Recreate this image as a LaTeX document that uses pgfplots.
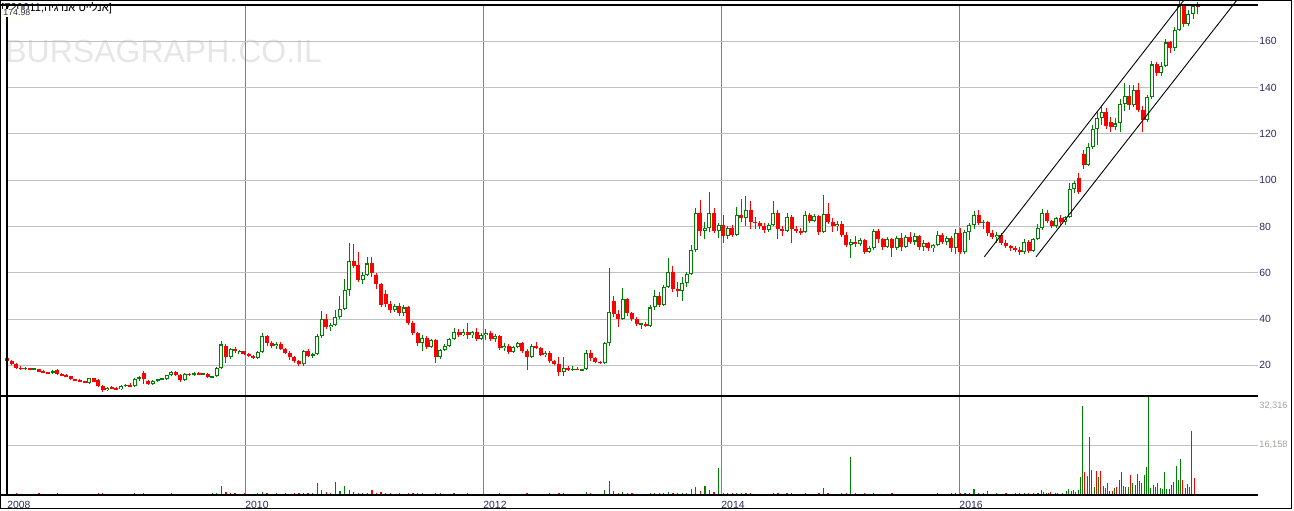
\documentclass[border=0pt]{standalone}
\usepackage{fontspec}
\setmainfont{Liberation Sans}
\newfontfamily\hebfont[Script=Hebrew]{Liberation Sans}
\TeXXeTstate=1
\usepackage{pgfplots}
\pgfplotsset{compat=1.18}
\usepackage{pgfplotstable}
\definecolor{cgreen}{HTML}{008000}
\definecolor{cred}{HTML}{FF0000}
\definecolor{gridh}{HTML}{C0C0C0}
\definecolor{gridv}{HTML}{808080}
\definecolor{lblnavy}{HTML}{2B2B5E}
\definecolor{lblvol}{HTML}{A8A098}
\definecolor{wm}{HTML}{E6E6E6}
\definecolor{boxbg}{HTML}{FFFFF0}

\pgfplotstableread{
w o h l c v
0 23 23.5 21.5 22 400
2 22 22.5 20 20.5 300
4 20.5 21 18.5 19 500
6 19 19.5 17.8 18.5 200
8 18.5 19.2 18 18.8 300
10 18.8 19 17.8 18.2 200
12 18.2 18.8 17.9 18.5 300
14 18.3 18.6 17 17.2 500
16 17.2 17.8 16.5 17 200
18 17 17.3 16.2 16.6 300
20 16.6 17.8 16.3 17.5 200
22 18 18.3 15.8 16.2 400
24 16.2 16.8 15.2 15.6 200
26 15.6 16.3 15 15.4 300
28 15.2 15.4 13.8 14 200
30 14 14.3 13.3 13.6 300
32 13.6 14 12.6 13 200
34 13 13.4 12.4 12.8 200
36 12.4 14.6 12 14.4 300
38 14.4 14.7 12.8 13 200
40 13.5 14 10.8 11.2 400
42 11.2 11.6 8.5 9.2 500
44 9.2 10.8 8.8 10.4 300
46 10.4 11 9.8 10.2 200
48 10.2 10.6 9.2 9.6 300
50 9.6 11.5 9.4 11.2 300
52 11.2 12 10.8 11.4 200
54 11.4 12.2 10.9 11 200
56 11 14.5 10.8 14.2 400
58 14.2 15.2 13.4 14.8 300
60 16.8 17.5 12 14.2 500
62 13.2 13.8 11.4 12 300
64 12 13.6 11.6 13.2 200
66 13.2 14.3 13 14 200
68 14 14.4 13.6 14.1 300
70 14 16 13.8 15.8 200
72 15.8 17.6 15.2 17.2 400
74 17.2 17.5 15.6 16 300
76 16 16.4 13 13.6 200
78 13.6 16.5 13.3 16.2 300
80 16.2 16.8 15.4 16 200
82 16 16.9 15.6 16.6 300
84 16.6 16.9 15.8 16 200
86 16 16.8 15.7 16.5 200
88 16.3 16.6 14.6 15 300
90 15 15.6 14.4 15.3 400
92 15.3 19.2 15 18.8 700
94 18.8 30.5 18.5 29 2800
96 28.5 29 21 23.5 900
98 23.5 27.5 22.8 27 600
100 27 27.8 25.5 26 400
102 25 26.5 24.7 26 300
104 26 26.4 24.5 24.8 400
106 24.8 25.2 23.5 24 300
108 24 24.6 22.8 23.2 200
110 23.2 26 22.6 25.6 500
112 25.6 34 25.2 32.5 900
114 32.5 33 28.5 29.5 600
116 29.5 30.5 27.5 28.2 300
118 28.2 30 27 29.2 400
120 29.2 30 26.5 27 300
122 27 27.5 24.8 25.2 400
124 25.2 26 22.5 23.5 300
126 23.5 24 21.2 22 500
128 22 22.5 19.8 20.5 400
130 20.5 26.5 19.8 26 700
132 26 27 23.5 24 400
134 24 25.2 23.2 24.8 500
136 24.8 33.5 24.5 32.5 3800
138 32.5 43.5 32 40 1500
140 40 42 35.5 36.5 900
142 36.5 38.5 35 37.5 700
144 37.5 44 37 41 4200
146 41 50 40 44.5 1200
148 44.5 57.5 44 52.5 3000
150 52.5 73 50 65 1500
152 65 72.5 62 63 800
154 63.5 69 56 57 700
156 57 60.5 55 59 600
158 59 67 58.5 64 700
160 64 67 58 60 1500
162 59 60 53 55 600
164 55 55.5 45 46 800
166 51 52.5 45 46.5 500
168 46.5 48 42.5 44 400
170 44 46.5 43 45.5 300
172 45.5 47 41.5 42.5 400
174 42.5 46 41.5 45 300
176 45 45.5 37.5 38.5 500
178 38.5 39 33 34 400
180 34 34.5 28.5 29.5 600
182 29.5 33 26 32 400
184 32 32.6 27 28 300
186 28 31.5 27.5 31 300
188 31 31.5 21 23.5 700
190 23.5 27 22.8 26.5 400
192 26.5 29 26 28.5 300
194 28.5 32 28 31.5 300
196 31.5 36 31 34.5 500
198 34.5 35.5 32.2 33 300
200 33 35.5 32.5 34.5 200
202 34.5 38.5 31.5 33 400
204 33 35 32 34.5 200
206 34.5 36 30.5 31.5 300
208 31.5 34 31 33 200
210 33 35.5 31 34 300
212 34 34.8 30.5 31.5 200
214 31.5 33.5 30 32.8 300
216 32.8 33 26.5 27.5 400
218 27.5 29.5 26 28.5 200
220 28.5 29 25 25.8 300
222 25.8 28.5 25.2 28 200
224 28 30 27.5 29.5 300
226 29.5 30 25.5 26 200
228 26 27 18 23.5 500
230 23.5 29 23 28.5 300
232 28.5 30 27 27.5 200
234 27.5 28 24 24.5 300
236 24.5 26 23.5 25.5 200
238 25.5 26 21 21.8 400
240 21.8 22.5 20 20.5 300
242 20.5 23.5 15.5 17 500
244 17 23.5 15.2 19 600
246 19 19.5 17.5 18 200
248 18 19.5 17.5 18.6 200
250 18.6 19.3 17.8 18 200
252 18 18.6 17.6 18.2 300
254 18.2 26.5 17.8 25.5 900
256 25.5 26.5 22 23 400
258 23 23.5 21 21.5 300
260 21.5 22 20.5 21 200
262 21 30 20.5 29.5 1500
264 29.5 62 28.5 43 4500
266 48 50 41 42 1200
268 42 44 36.5 40 700
270 40 53.5 39.5 48.5 900
272 48.5 49 41.5 42.5 500
274 42.5 43 39 40 400
276 40 41 37 37.8 300
278 37.8 38.5 35.5 38 200
280 38 38.6 36.5 37 300
282 37 46 36.5 45 600
284 45 52.5 44 50 700
286 50 51.5 45 46 400
288 46 54.5 45.5 54 500
290 54 66.5 53.5 60.5 900
292 60.5 63 51.5 53 700
294 53 56 49.5 52 400
296 52 58 48 55.5 500
298 55.5 60.5 54 59.5 400
300 59.5 72 59 70 1800
302 70 88 69 86 2600
304 86 91.5 76 78 1200
306 78 82 74.5 79.5 3000
308 79.5 95 77.5 86 1500
310 86 88 77 78 900
312 78 81.5 75 80.5 8700
314 80.5 85 73 76 700
316 76 80 74.5 79.5 500
318 79.5 80.5 75.5 76.5 400
320 76.5 88.5 76 85 700
322 85 92 82 83.5 600
324 83.5 93 80 87 500
326 87 91 79 82 400
328 82 84 79 81.5 300
330 81.5 82.5 79 80 300
332 80 81.5 77 78.5 200
334 78.5 81.5 77.5 80.5 300
336 80.5 91 80 86 600
338 86 87 74.5 79 500
340 79 80 76 78 300
342 78 86 77.5 84 400
344 84 85 72.8 79 500
346 79 80 77 78 200
348 78 79.5 76.5 77.5 300
350 77.5 86.5 77 85 400
352 85 86 81.5 82.5 300
354 82.5 85.5 82 84.5 200
356 84.5 85 76.5 77.5 400
358 77.5 93.5 77 85.5 2200
360 85.5 90 81 82 500
362 82 83.5 77.5 80 300
364 80 82.5 78 81 200
366 81 82.5 75.5 76.5 400
368 76.5 77.5 71 72 500
370 72 74.5 66.5 73.5 12300
372 73.5 76 71 72.5 400
374 72.5 75 71.5 74 300
376 74 74.5 68 69 400
378 69 71.5 68.5 70.5 200
380 70.5 79 70 78 500
382 78 79 73 74.5 300
384 74.5 75 70 71 300
386 71 75.5 70.5 74.5 200
388 74.5 75 67 70.5 400
390 70.5 76 70 75 300
392 75 77 69.5 71 200
394 71 76.5 70.5 75.5 300
396 75.5 77.5 72.5 73.5 200
398 73.5 77 72 76 300
400 76 76.5 70 71 200
402 71 74 69.5 73 300
404 73 73.5 69.5 70.5 200
406 70.5 72.5 69 72 200
408 72 78 71.5 76.5 400
410 76.5 77 72.5 73.5 300
412 73.5 76 72 75 200
414 75 76 69 70.5 400
416 70.5 79 68 77 500
418 77 79.5 68 69 600
420 69 78.5 68 77.5 700
422 77.5 81.5 74 80.5 500
424 80.5 86.5 79 85 1800
426 85 87 80.5 81.5 600
428 81.5 83 79 82 400
430 82 82.5 76 77 1200
432 77 78.5 74.5 75.5 300
434 75.5 77.5 73 76.5 400
436 76.5 77 72 73 300
438 73 74 70.5 71.5 400
440 71.5 72 69.5 70.5 300
442 70.5 71.5 69 70 500
444 70 71 67.8 68.8 400
446 68.8 74.5 68 73.5 600
448 73.5 74 68.5 69.5 400
450 69.5 75 69 74.5 500
452 74.5 81 74 79.5 600
454 79.5 87.5 78.5 86 0
456 86 87 81.5 82.5 0
458 82.5 83 79.5 80 0
460 80 84 79.5 83.5 0
462 83.5 85 80 82 0
464 82 84.5 80.5 84 0
466 84 99 83.5 96 0
468 96 99.5 94.5 99 0
470 101 103 94 95 0
472 111.5 113 105 106.5 0
474 106.5 116 106 114.5 0
476 114.5 124 113.5 122 0
478 122 130 115 127 0
480 127 131.5 124 129.5 0
482 129.5 131 122 123.5 0
484 125 127.5 121 123 0
486 123 127 121.5 124.5 0
488 124.5 135 121 133 0
490 133 142 130 136.5 0
492 136.5 141 130.5 132.5 0
494 132.5 141 131.5 139 0
496 139 142 129.5 130.5 0
498 130.5 132 121 126 0
500 126 137 125 136 0
502 136 151.5 135 150 0
504 150 151 145 146.5 0
506 146.5 151 145 149.5 0
508 149.5 161 149 159.5 0
510 159.5 160 155 157 0
512 157 166 156 165 0
514 165 178 164.5 175.5 0
516 175.5 176 166 167.5 0
518 167.5 173.5 166.5 172 0
520 172 176 169.5 175.5 0
522 176 177 172 174.98 0
}\candles

\pgfplotstableread{
w v g
453.7 1600 1
454.4 760 0
455.9 440 1
456.6 440 0
457.6 760 0
459.8 440 1
460.6 440 0
462.7 440 1
463.5 330 0
464.5 1300 1
465.4 1960 1
466.7 1090 0
467.6 1640 1
468.4 760 0
469.8 1640 1
470.6 5700 1
471.5 29200 1
472.4 7300 0
473.7 6200 1
474.6 18750 1
475.5 8200 1
476.8 2400 1
477.7 7850 0
478.5 5670 1
479.4 7850 0
480.7 2940 1
481.6 2180 1
482.6 3920 0
483.4 1300 0
484.7 1300 0
485.5 2070 1
486.4 2600 0
487.7 4900 1
488.6 7500 1
489.5 2940 1
490.4 2400 0
491.7 2400 1
492.6 6540 0
493.4 3920 1
494.8 3270 0
495.6 6870 1
496.5 4580 0
497.4 3920 1
498.7 6540 1
499.6 9160 1
500.5 32316 1
501.3 2070 1
502.6 3270 1
503.5 2600 0
504.4 3920 1
505.7 2070 1
506.6 1740 1
507.5 7500 1
508.3 1740 1
509.7 1740 1
510.5 3270 0
511.4 4250 0
512.7 9500 1
513.6 4900 1
514.5 11770 1
515.4 4900 0
516.7 2290 1
517.6 3600 0
518.4 2600 1
519.3 20900 1
520.6 5560 0
}\latevol

\pgfplotsset{
  chartbase/.style={
    scale only axis, width=625.5pt, xmin=0, xmax=548.5,
    axis line style={draw=none}, major tick length=0pt,
    tick style={draw=none},
    xtick={0,104.36,208.71,313.07,417.43},
    xmajorgrids, major x grid style={gridv, line width=0.5pt},
    ymajorgrids, major y grid style={gridh, line width=0.5pt},
    scaled ticks=false,
    /pgf/number format/assume math mode=true,
    every tick label/.append style={font=\fontsize{5.2}{6}\selectfont},
  },
  candle/.style n args={2}{draw=none, mark=none, forget plot,
    error bars/.cd, y dir=both, y explicit, error mark=none,
    error bar style={draw=#1, line width=#2}},
}

\begin{document}
\begin{tikzpicture}
\useasboundingbox (0,0) rectangle (647pt,255pt);
\begin{scope}[x=0.5pt,y=0.5pt]
\node[anchor=north west, inner sep=0pt, text=wm, font=\fontsize{16}{16}\selectfont] at (5,470) {BURSAGRAPH.CO.IL};
\end{scope}

% price panel
\begin{axis}[chartbase,
  at={(3.5pt,57pt)}, anchor=south west, height=195.5pt,
  ymin=6.74, ymax=175.7, clip=false,
  xticklabels={},
  ytick={20,40,60,80,100,120,140,160},
  yticklabels={20,40,60,80,100,120,140,160},
  yticklabel pos=right,
  yticklabel style={anchor=west, inner sep=0pt, xshift=0.5pt, text=lblnavy},
]
% green candles
\addplot[restrict expr to domain={\thisrow{c}-\thisrow{o}}{0:1000},
  candle={cgreen}{0.5pt}]
  table[x=w, y expr={(\thisrow{h}+\thisrow{l})/2}, y error expr={(\thisrow{h}-\thisrow{l})/2}] {\candles};
\addplot[restrict expr to domain={\thisrow{c}-\thisrow{o}}{0:1000},
  candle={cgreen}{2pt}]
  table[x=w, y expr={(\thisrow{o}+\thisrow{c})/2}, y error expr={max(abs(\thisrow{c}-\thisrow{o})/2,0.3)}] {\candles};
\addplot[restrict expr to domain={\thisrow{c}-\thisrow{o}}{0:1000},
  candle={white}{1pt}]
  table[x=w, y expr={(\thisrow{o}+\thisrow{c})/2}, y error expr={max(abs(\thisrow{c}-\thisrow{o})/2-0.45,0)}] {\candles};
% red candles
\addplot[restrict expr to domain={\thisrow{c}-\thisrow{o}}{-1000:-0.001},
  candle={cred}{0.5pt}]
  table[x=w, y expr={(\thisrow{h}+\thisrow{l})/2}, y error expr={(\thisrow{h}-\thisrow{l})/2}] {\candles};
\addplot[restrict expr to domain={\thisrow{c}-\thisrow{o}}{-1000:-0.001},
  candle={cred}{2pt}]
  table[x=w, y expr={(\thisrow{o}+\thisrow{c})/2}, y error expr={max(abs(\thisrow{c}-\thisrow{o})/2,0.3)}] {\candles};
% channel
\addplot[black, line width=0.45pt, mark=none] coordinates {(428.5,66.9) (516.1,177.9)};
\addplot[black, line width=0.45pt, mark=none] coordinates {(451.2,66.9) (539.3,177.9)};
\end{axis}

% volume panel
\begin{axis}[chartbase,
  at={(3.5pt,7.65pt)}, anchor=south west, height=49.35pt,
  ymin=0, ymax=32316, clip=false,
  xticklabels={2008,2010,2012,2014,2016},
  xticklabel style={anchor=north west, inner sep=0pt, yshift=-2.9pt, text=lblnavy},
  ytick={16158}, yticklabels={},
]
\addplot[ycomb, cgreen, line width=0.6pt, mark=none,
  restrict expr to domain={\thisrow{c}-\thisrow{o}}{0:1000}]
  table[x=w, y=v] {\candles};
\addplot[ycomb, cred, line width=0.6pt, mark=none,
  restrict expr to domain={\thisrow{c}-\thisrow{o}}{-1000:-0.001}]
  table[x=w, y=v] {\candles};
\addplot[ycomb, cgreen, line width=0.6pt, mark=none,
  restrict expr to domain={\thisrow{g}}{0.5:1.5}]
  table[x=w, y=v] {\latevol};
\addplot[ycomb, cred, line width=0.6pt, mark=none,
  restrict expr to domain={\thisrow{g}}{-0.5:0.5}]
  table[x=w, y=v] {\latevol};
\end{axis}

\begin{scope}[x=0.5pt,y=0.5pt]
\draw[black, line width=0.6pt] (0,505) -- (1258,505);
\draw[black, line width=0.6pt] (0,114) -- (1258,114);
\draw[black, line width=1pt] (0,15.3) -- (1258,15.3);
\draw[black, line width=0.8pt] (7,15.3) -- (7,505);
\draw[black, line width=0.5pt] (0.5,1.7) rectangle (1291.7,509.5);
\node[anchor=north west, inner sep=0pt, text=lblvol, font=\fontsize{4.6}{5.5}\selectfont] at (1259,108.3) {32,316};
\node[anchor=west, inner sep=0pt, text=lblvol, font=\fontsize{4.6}{5.5}\selectfont] at (1259,64.7) {16,158};
\node[anchor=base west, inner sep=0pt, font=\fontsize{5.6}{6.5}\selectfont] at (1,498.3) {[720011,{\hebfont\beginR אנלייט אנרגיה\endR}]};
\node[anchor=north west, inner sep=0.5pt, fill=boxbg, text=lblnavy, font=\fontsize{4.4}{5}\selectfont] at (2,501.7) {174.98};
\end{scope}
\end{tikzpicture}
\end{document}
